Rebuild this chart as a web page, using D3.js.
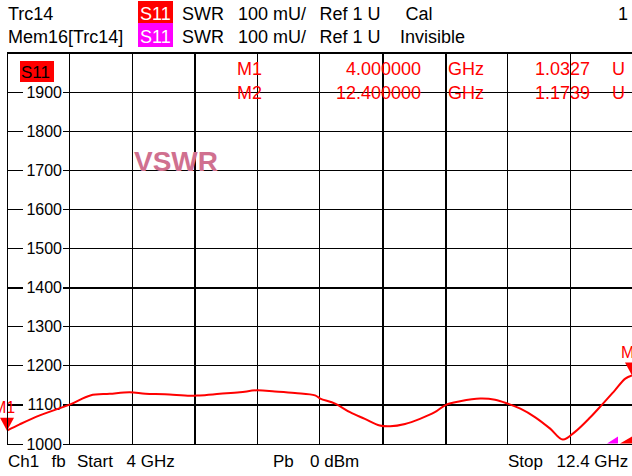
<!DOCTYPE html>
<html>
<head>
<meta charset="utf-8">
<script src="https://cdn.jsdelivr.net/npm/d3@7"></script>
<style>
  html, body { margin: 0; padding: 0; background: #fff; }
  svg { display: block; }
  text { font-family: "Liberation Sans", Arial, sans-serif; }
</style>
</head>
<body>
<svg id="chart" width="632" height="476"></svg>
<script>
// ---------------- data ----------------
const freqGHz = [4.00, 4.17, 4.44, 4.85, 5.12, 5.38, 5.65, 5.86, 6.12, 6.46, 6.59, 6.86, 7.13, 7.36, 7.60, 7.87,
                 8.14, 8.21, 8.41, 8.61, 8.81, 9.01, 9.15, 9.35, 9.55, 9.75, 9.90, 10.09, 10.36, 10.56, 10.73,
                 10.90, 11.10, 11.30, 11.47, 11.63, 11.84, 12.01, 12.17, 12.31, 12.40];
const swrMilliU = [1033, 1049, 1072, 1100, 1123, 1127, 1131, 1127, 1126, 1122, 1123, 1127, 1131, 1136, 1133, 1129,
                   1123, 1115, 1102, 1080, 1063, 1046, 1044, 1050, 1063, 1080, 1099, 1108, 1115, 1112, 1102,
                   1089, 1067, 1038, 1010, 1029, 1067, 1102, 1136, 1166, 1174];
const yTickLabels = [1000, 1100, 1200, 1300, 1400, 1500, 1600, 1700, 1800, 1900];
const yGridValues = [1000, 1100, 1200, 1300, 1400, 1500, 1600, 1700, 1800, 1900, 2000];
const xGridValues = [4.00, 4.84, 5.68, 6.52, 7.36, 8.20, 9.04, 9.88, 10.72, 11.56, 12.40];
const markerNames = ["M1", "M2"];
const markerFreqGHz = [4.0, 12.4];
const markerFreqText = ["4.000000", "12.400000"];
const markerValueU = [1.0327, 1.1739];
const markerValueText = ["1.0327", "1.1739"];
const headerRow1 = ["Trc14", "S11", "SWR", "100 mU/", "Ref 1 U", "Cal", "1"];
const headerRow2 = ["Mem16[Trc14]", "S11", "SWR", "100 mU/", "Ref 1 U", "Invisible"];
const footerTexts = ["Ch1", "fb", "Start", "4 GHz", "Pb", "0 dBm", "Stop", "12.4 GHz"];
const thickYGrid = [1100, 1400];
const thickXGrid = [6.52, 9.04, 9.88];

// ---------------- layout ----------------
const svg = d3.select("#chart");
const W = 632, H = 476;
const pLeft = 7, pRight = 632, pTop = 52.5, pBottom = 443.5;

svg.append("rect").attr("width", W).attr("height", H).attr("fill", "#fff");

const x = d3.scaleLinear().domain([4, 12.4]).range([pLeft, pRight]);
const y = d3.scaleLinear().domain([1000, 2000]).range([pBottom, pTop]);

// ---------------- grid ----------------
const grid = svg.append("g").attr("shape-rendering", "crispEdges");
grid.selectAll("line.h").data(yGridValues).enter().append("line")
  .attr("x1", pLeft).attr("x2", pRight)
  .attr("y1", d => Math.round(y(d)) + 0.5).attr("y2", d => Math.round(y(d)) + 0.5)
  .attr("stroke", "#000")
  .attr("stroke-width", d => thickYGrid.includes(d) ? 2 : 1);
grid.selectAll("line.v").data(xGridValues).enter().append("line")
  .attr("x1", d => Math.round(x(d)) + 0.5).attr("x2", d => Math.round(x(d)) + 0.5)
  .attr("y1", pTop).attr("y2", pBottom)
  .attr("stroke", "#000")
  .attr("stroke-width", d => thickXGrid.includes(d) ? 2 : 1);

// y labels with white backing
const ylab = svg.append("g");
yTickLabels.forEach(v => {
  const yy = Math.round(y(v)) + 0.5;
  ylab.append("rect").attr("x", 23).attr("y", yy - 8).attr("width", 40).attr("height", 16).attr("fill", "#fff");
  ylab.append("text").attr("x", 62).attr("y", yy).attr("dy", "0.36em")
    .attr("text-anchor", "end").attr("font-size", 16).attr("fill", "#000").text(v);
});

// ---------------- trace ----------------
const pts = freqGHz.map((f, i) => [f, swrMilliU[i]]);
const line = d3.line().x(d => x(d[0])).y(d => y(d[1])).curve(d3.curveCatmullRom.alpha(0.5));
svg.append("path").attr("d", line(pts)).attr("fill", "none")
  .attr("stroke", "#ff0000").attr("stroke-width", 2);

// ---------------- markers on trace ----------------
markerNames.forEach((name, i) => {
  const mx = x(markerFreqGHz[i]);
  const my = y(markerValueU[i] * 1000);
  svg.append("path")
    .attr("d", `M${mx - 7},${my - 13}L${mx + 7},${my - 13}L${mx},${my}Z`)
    .attr("fill", "#ff0000");
  svg.append("text").attr("x", i === 0 ? mx - 3 : mx).attr("y", my - 18)
    .attr("text-anchor", "middle").attr("font-size", 16).attr("fill", "#ff0000").text(name);
});

// stop indicators at bottom right
const xe = x(12.4), yb = y(1000);
svg.append("path").attr("d", `M${xe - 25},${yb}L${xe - 14},${yb - 7}L${xe - 14},${yb}Z`).attr("fill", "#ff00ff");
svg.append("path").attr("d", `M${xe - 12},${yb}L${xe},${yb - 7}L${xe},${yb}Z`).attr("fill", "#ff0000");

// ---------------- frame ----------------
const frame = svg.append("g").attr("shape-rendering", "crispEdges");
frame.append("line").attr("x1", pLeft + 0.5).attr("x2", pLeft + 0.5).attr("y1", pTop).attr("y2", pBottom).attr("stroke", "#000");
frame.append("line").attr("x1", pLeft).attr("x2", pRight).attr("y1", pTop).attr("y2", pTop).attr("stroke", "#000");

// S11 tag inside plot
svg.append("rect").attr("x", 20).attr("y", 61).attr("width", 34).attr("height", 21).attr("fill", "#ff0000");
svg.append("text").attr("x", 21).attr("y", 78).attr("font-size", 17).attr("fill", "#000").text("S11");

// VSWR label
svg.append("text").attr("x", 134).attr("y", 171).attr("font-size", 28).attr("font-weight", "bold")
  .attr("fill", "#d0708f").text("VSWR");

// ---------------- marker table ----------------
const mt = svg.append("g").attr("fill", "#ff0000").attr("font-size", 18);
markerNames.forEach((name, i) => {
  const by = 75 + i * 23.5;
  mt.append("text").attr("x", 237).attr("y", by).text(name);
  mt.append("text").attr("x", 421).attr("y", by).attr("text-anchor", "end").text(markerFreqText[i]);
  mt.append("text").attr("x", 448).attr("y", by).text("GHz");
  mt.append("text").attr("x", 590).attr("y", by).attr("text-anchor", "end").text(markerValueText[i]);
  mt.append("text").attr("x", 612).attr("y", by).text("U");
});

// ---------------- header ----------------
svg.append("rect").attr("x", 138).attr("y", 1).attr("width", 35).attr("height", 22).attr("fill", "#ff0000");
svg.append("rect").attr("x", 138).attr("y", 23).attr("width", 35).attr("height", 24).attr("fill", "#ff00ff");
const hd = svg.append("g").attr("font-size", 18).attr("fill", "#000");
const hx1 = [8, 140, 182, 238, 319.5, 405.5];
headerRow1.slice(0, 6).forEach((t, i) => {
  hd.append("text").attr("x", hx1[i]).attr("y", 19.5).attr("fill", i === 1 ? "#fff" : "#000").text(t);
});
hd.append("text").attr("x", 628).attr("y", 19.5).attr("text-anchor", "end").text(headerRow1[6]);
const hx2 = [8, 140, 182, 238, 319.5, 400];
headerRow2.forEach((t, i) => {
  hd.append("text").attr("x", hx2[i]).attr("y", 43).attr("fill", i === 1 ? "#fff" : "#000").text(t);
});

// ---------------- footer ----------------
const ft = svg.append("g").attr("font-size", 17).attr("fill", "#000");
const fx = [8, 51.5, 77, 126.5, 273, 310, 508, 556.5];
footerTexts.forEach((t, i) => {
  ft.append("text").attr("x", fx[i]).attr("y", 467).text(t);
});
</script>
</body>
</html>
